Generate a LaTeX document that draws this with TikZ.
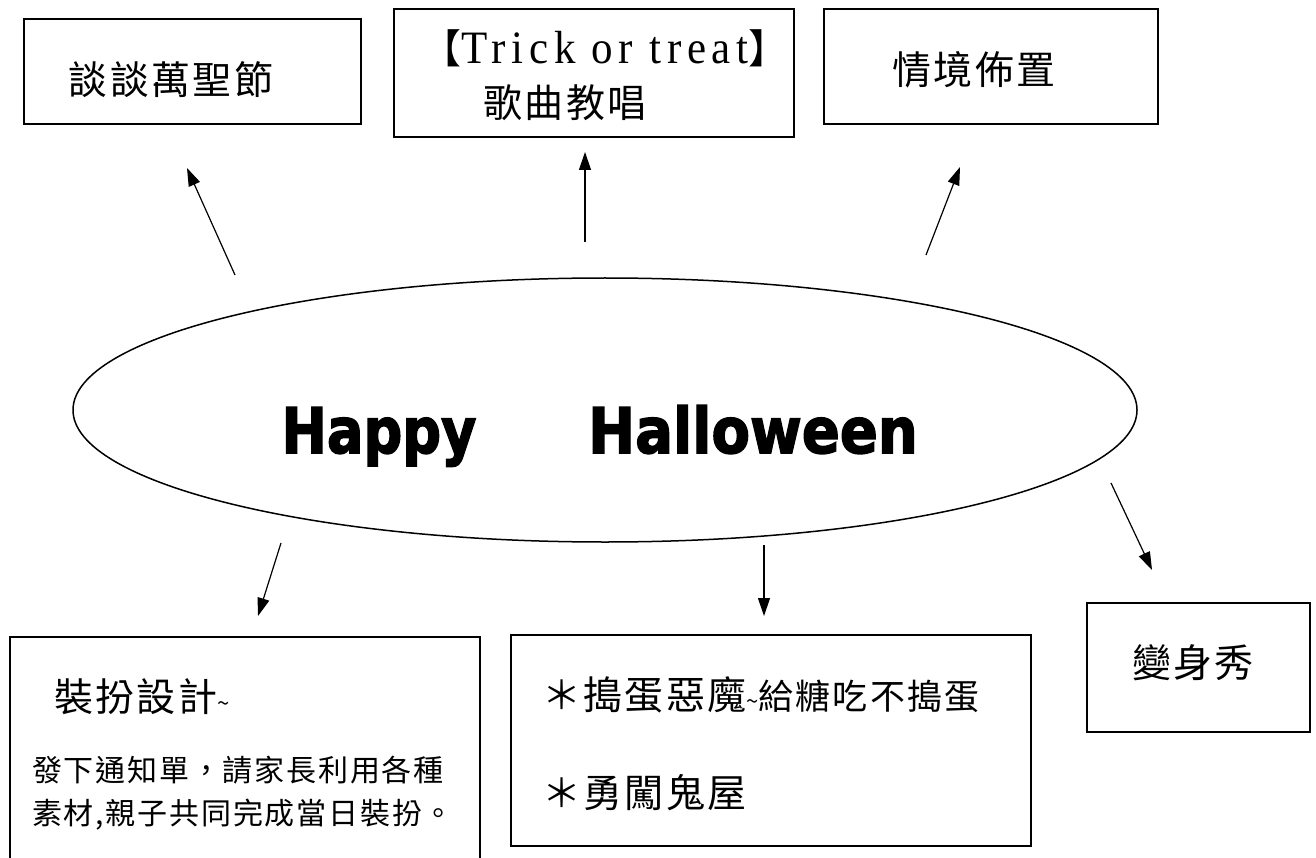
\documentclass[tikz,border=0pt]{standalone}
\usepackage{fontspec}
\usepackage{graphicx}
\setmainfont{Liberation Serif}
\newfontfamily\cjk[LetterSpace=6]{Noto Sans CJK TC}
\newfontfamily\trickfont[LetterSpace=13]{Liberation Serif}
\newfontfamily\hwfont[BoldFeatures={FakeBold=2.5}]{DejaVu Sans}
\usetikzlibrary{shapes.geometric,arrows.meta}
\tikzset{
  box/.style={draw,line width=1.5pt,rectangle,inner sep=0pt},
  txt/.style={inner sep=0pt},
  arr/.style={line width=1.2pt,-{Triangle[length=18pt,width=12pt]}},
}
\newcommand{\sz}[1]{\fontsize{#1}{#1}\selectfont}
\begin{document}
\begin{tikzpicture}[x=1pt,y=-1pt]
\useasboundingbox (0,0) rectangle (1316,858);
% top boxes
\node[box,minimum width=337pt,minimum height=105pt] (b1) at (192.5,71.5) {};
\node[box,minimum width=400pt,minimum height=128pt] (b2) at (594,73) {};
\node[box,minimum width=334pt,minimum height=115pt] (b3) at (991,66.5) {};
\node[txt] (t1) at (171,80) {\cjk\sz{39}談談萬聖節};
\node[txt] (t2a) at (605,48) {\cjk\sz{40}【\scalebox{1}[1.08]{\trickfont\sz{43}Trick or treat}】};
\node[txt] (t2b) at (565,103) {\cjk\sz{39}歌曲教唱};
\node[txt] (t3) at (974,70) {\cjk\sz{39}情境佈置};
% ellipse
\node[draw,ellipse,line width=1.5pt,minimum width=1064pt,minimum height=264pt,inner sep=0pt] (e) at (605,410) {};
\node[txt,anchor=base] (h1) at (379,453) {\hwfont\bfseries\sz{63}\scalebox{0.86}[1]{Happy}};
\node[txt,anchor=base] (h2) at (753,453) {\hwfont\bfseries\sz{63}\scalebox{0.89}[1]{Halloween}};
% bottom boxes
\node[box,minimum width=470pt,minimum height=233pt] (b4) at (245,753.5) {};
\node[box,minimum width=520pt,minimum height=211pt] (b5) at (771,740.5) {};
\node[box,minimum width=223pt,minimum height=129pt] (b6) at (1198.5,667.5) {};
\node[txt,anchor=west] (t4a) at (54,697) {\cjk\sz{39}裝扮設計{\sz{22}\textasciitilde}};
\node[txt,anchor=west] (t4b) at (32,770) {\cjk\sz{30}發下通知單，請家長利用各種};
\node[txt,anchor=west] (t4c) at (32,815) {\cjk\sz{30}素材,親子共同完成當日裝扮。};
\node[txt,anchor=west] (t5a) at (542,695) {\cjk\sz{39}＊搗蛋惡魔{\sz{35}{\sz{22}\textasciitilde}給糖吃不搗蛋}};
\node[txt,anchor=west] (t5b) at (542,793) {\cjk\sz{39}＊勇闖鬼屋};
\node[txt] (t6) at (1193,663) {\cjk\sz{39}變身秀};
% arrows
\coordinate (a1s) at (235,275); \coordinate (a1e) at (187,168);
\coordinate (a2s) at (585,242); \coordinate (a2e) at (585,152);
\coordinate (a3s) at (926,255); \coordinate (a3e) at (960,167);
\coordinate (a4s) at (281,543); \coordinate (a4e) at (258,616);
\coordinate (a5s) at (764,545); \coordinate (a5e) at (764,616);
\coordinate (a6s) at (1111,483); \coordinate (a6e) at (1152,570);
\draw[arr] (a1s) -- (a1e);
\draw[arr] (a2s) -- (a2e);
\draw[arr] (a3s) -- (a3e);
\draw[arr] (a4s) -- (a4e);
\draw[arr] (a5s) -- (a5e);
\draw[arr] (a6s) -- (a6e);
\end{tikzpicture}
\end{document}
